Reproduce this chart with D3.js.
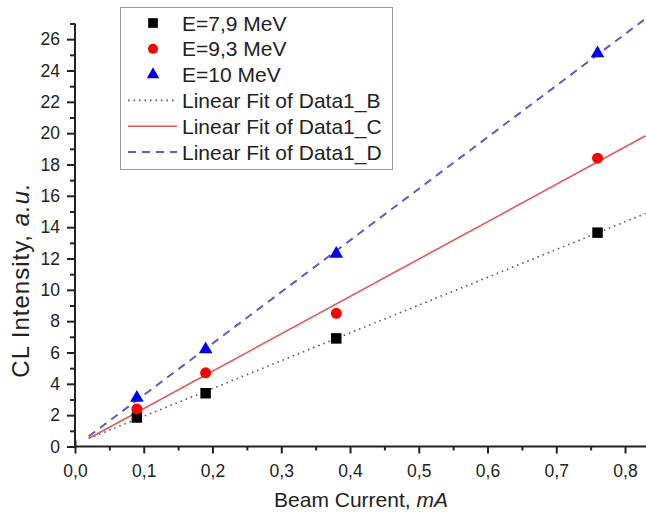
<!DOCTYPE html>
<meta charset="utf-8">
<style>
    body { margin: 0; background: #fff; }
    text { font-family: "Liberation Sans", Arial, sans-serif; fill: #222; }
</style>
<script src="https://cdn.jsdelivr.net/npm/d3@7"></script>
<body>
<svg></svg>
</body>
<script>

    // beam current (mA)
    var current = [0.09, 0.19, 0.38, 0.76];
    // CL intensity for each energy
    var e79 = [1.85, 3.4, 6.9, 13.65];
    var e93 = [2.4, 4.7, 8.5, 18.4];
    var e10 = [3.1, 6.2, 12.3, 25.1];
    var seriesNames = ['E=7,9 MeV', 'E=9,3 MeV', 'E=10 MeV'];
    var fitNames = ['Linear Fit of Data1_B', 'Linear Fit of Data1_C', 'Linear Fit of Data1_D'];
    var fitRange = [0.02, 0.83];
    var xTicks = [0, 0.1, 0.2, 0.3, 0.4, 0.5, 0.6, 0.7, 0.8];
    var yTicks = [0, 2, 4, 6, 8, 10, 12, 14, 16, 18, 20, 22, 24, 26];

    var W = 646, H = 512;
    var svg = d3.select('svg').attr('width', W).attr('height', H);

    var x = d3.scaleLinear().domain([0, 0.8305]).range([75, 646]);
    var y = d3.scaleLinear().domain([0, 27]).range([446.5, 23.5]);

    var styles = [
        {color: '#000', line: '#555', dash: '1.5,4', width: 1.6, shape: d3.symbolSquare, size: 110},
        {color: '#f00', line: '#e05858', dash: null, width: 1.6, shape: d3.symbolCircle, size: 95},
        {color: '#0000ee', line: '#5a5ad0', dash: '8,6', width: 2, shape: d3.symbolTriangle, size: 80}
    ];
    var data = [e79, e93, e10];

    function fit(ys) {
        var mx = d3.mean(current), my = d3.mean(ys);
        var sxy = d3.sum(current, function (c, i) { return (c - mx) * (ys[i] - my); });
        var sxx = d3.sum(current, function (c) { return (c - mx) * (c - mx); });
        var b = sxy / sxx;
        return {b: b, a: my - b * mx};
    }

    // axes
    var xAxis = d3.axisBottom(x).tickValues(xTicks).tickSize(7)
        .tickFormat(function (d) { return d3.format('.1f')(d).replace('.', ','); });
    var gx = svg.append('g').attr('transform', 'translate(0,' + y(0) + ')').call(xAxis);
    gx.selectAll('.tick').filter(function (d) { return d === 0; }).select('line').attr('y1', -6);
    var gxm = svg.append('g').attr('transform', 'translate(0,' + y(0) + ')')
        .call(d3.axisBottom(x).tickValues(xTicks.map(function (d) { return d + 0.05; })).tickSize(4).tickFormat(''));
    gxm.select('.domain').remove();

    var yAxis = d3.axisLeft(y).tickValues(yTicks).tickSize(8);
    var gy = svg.append('g').attr('transform', 'translate(' + x(0) + ',0)').call(yAxis);
    var gym = svg.append('g').attr('transform', 'translate(' + x(0) + ',0)')
        .call(d3.axisLeft(y).tickValues(yTicks.map(function (d) { return d + 1; })).tickSize(5).tickFormat(''));
    gym.select('.domain').remove();

    [gx, gy, gxm, gym].forEach(function (g) {
        g.selectAll('.domain').attr('stroke', '#222').attr('stroke-width', 2);
        g.selectAll('line').attr('stroke', '#222').attr('stroke-width', 2);
    });
    gx.select('.domain').attr('d', 'M' + x(0) + ',0H' + W);
    gy.select('.domain').attr('d', 'M0,' + y(0) + 'V' + y(27));
    gx.selectAll('text').attr('font-size', 17.5).attr('y', 30).attr('dy', 0).attr('fill', '#333');
    gy.selectAll('text').attr('font-size', 17.5).attr('x', -15).attr('fill', '#333');

    // fit lines
    data.forEach(function (ys, k) {
        var f = fit(ys);
        svg.append('line')
            .attr('x1', x(fitRange[0])).attr('y1', y(f.a + f.b * fitRange[0]))
            .attr('x2', x(fitRange[1])).attr('y2', y(f.a + f.b * fitRange[1]))
            .attr('stroke', styles[k].line)
            .attr('stroke-width', styles[k].width)
            .attr('stroke-dasharray', styles[k].dash);
    });

    // points
    data.forEach(function (ys, k) {
        svg.append('g').selectAll('path')
            .data(ys)
            .enter().append('path')
            .attr('d', d3.symbol().type(styles[k].shape).size(styles[k].size))
            .attr('transform', function (d, i) { return 'translate(' + x(current[i]) + ',' + y(d) + ')'; })
            .attr('fill', styles[k].color);
    });

    // axis titles
    var xt = svg.append('text').attr('x', 361).attr('y', 507).attr('text-anchor', 'middle').attr('font-size', 21);
    xt.append('tspan').text('Beam Current, ');
    xt.append('tspan').attr('font-style', 'italic').text('mA');
    var yt = svg.append('text').attr('transform', 'translate(29,280) rotate(-90)').attr('text-anchor', 'middle')
        .attr('font-size', 24).attr('letter-spacing', 1);
    yt.append('tspan').text('CL Intensity, ');
    yt.append('tspan').attr('font-style', 'italic').text('a.u.');

    // legend
    var lg = svg.append('g');
    lg.append('rect').attr('x', 120.5).attr('y', 7.5).attr('width', 272).attr('height', 162)
        .attr('fill', '#fff').attr('stroke', '#999').attr('stroke-width', 1);
    var rowY = d3.range(6).map(function (i) { return 23 + i * 25.8; });
    seriesNames.forEach(function (name, k) {
        lg.append('path')
            .attr('d', d3.symbol().type(styles[k].shape).size(styles[k].size * 0.85))
            .attr('transform', 'translate(153,' + rowY[k] + ')')
            .attr('fill', styles[k].color);
        lg.append('text').attr('x', 182).attr('y', rowY[k]).attr('dy', '0.36em').attr('font-size', 21).text(name);
    });
    fitNames.forEach(function (name, k) {
        var yy = rowY[k + 3];
        lg.append('line').attr('x1', 128).attr('x2', 177).attr('y1', yy).attr('y2', yy)
            .attr('stroke', styles[k].line).attr('stroke-width', styles[k].width)
            .attr('stroke-dasharray', styles[k].dash);
        lg.append('text').attr('x', 182).attr('y', yy).attr('dy', '0.36em').attr('font-size', 21).text(name);
    });

</script>
</html>
